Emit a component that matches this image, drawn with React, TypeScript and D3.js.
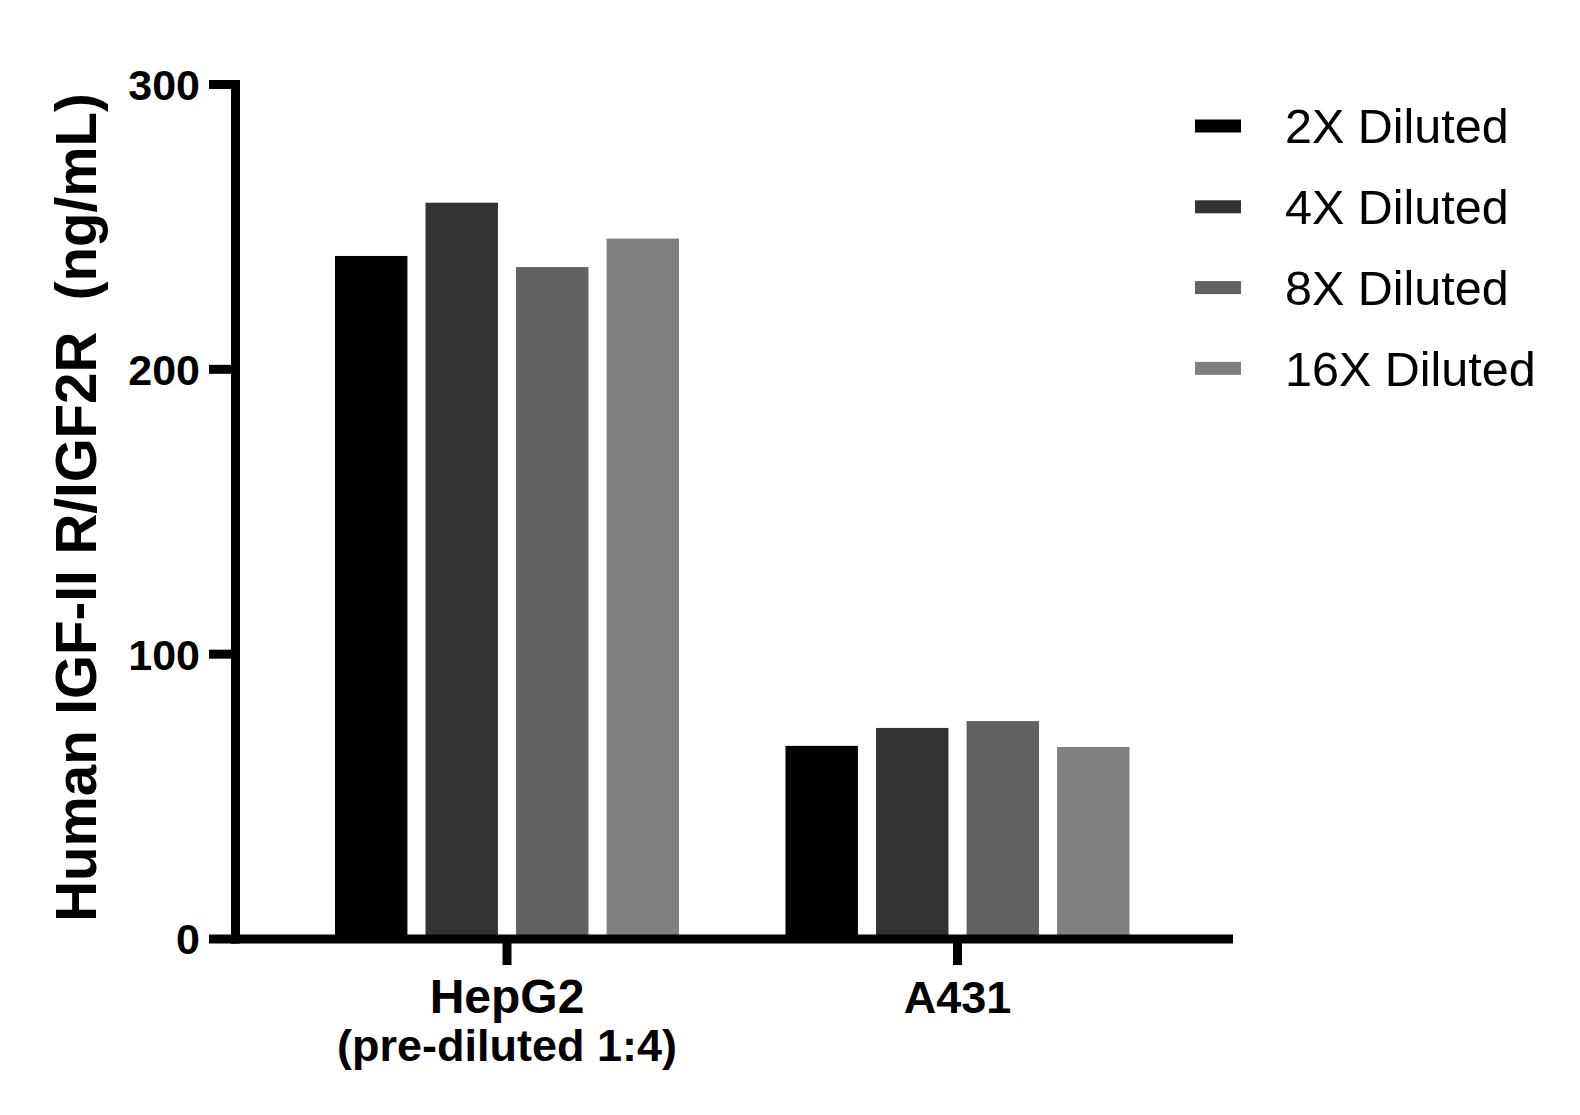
import React from "react";
import * as d3 from "d3";

const categories = ["HepG2", "A431"];
const categoryLines = [["HepG2", "(pre-diluted 1:4)"], ["A431"]];
const series = ["2X Diluted", "4X Diluted", "8X Diluted", "16X Diluted"];
const seriesColors = ["#000000", "#333333", "#626262", "#808080"];
const hepg2Values = [239.8, 258.5, 235.9, 245.9];
const a431Values = [67.8, 74.1, 76.5, 67.4];
const yTicks = [0, 100, 200, 300];
const yTitle = "Human IGF-II R/IGF2R  (ng/mL)";

const valuesByCategory = [hepg2Values, a431Values];

const FONT = "'Liberation Sans', Arial, Helvetica, sans-serif";

export default function App() {
  const W = 1580;
  const H = 1115;
  const axisX = 235.5;
  const y = d3.scaleLinear().domain([0, 300]).range([939, 84.5]);
  const xGroup = d3.scalePoint<string>().domain(categories).range([507, 957.5]).padding(0);
  const xInner = d3.scaleBand<string>().domain(series).range([-172, 172]).paddingInner(0.2).paddingOuter(0);
  const axisRight = 1233;
  const lw = 9;

  return (
    <svg
      width={W}
      height={H}
      viewBox={`0 0 ${W} ${H}`}
      style={{ position: "absolute", left: 0, top: 0, display: "block", background: "#fff" }}
      fontFamily={FONT}
    >
      <rect x={0} y={0} width={W} height={H} fill="#fff" />
      {categories.map((c, ci) => (
        <g key={c} transform={`translate(${xGroup(c)},0)`}>
          {series.map((s, si) => (
            <rect
              key={s}
              x={xInner(s)!}
              width={xInner.bandwidth()}
              y={y(valuesByCategory[ci][si])}
              height={y(0) - y(valuesByCategory[ci][si])}
              fill={seriesColors[si]}
            />
          ))}
        </g>
      ))}
      <line x1={axisX} x2={axisX} y1={y(300) - lw / 2} y2={y(0) + lw / 2} stroke="#000" strokeWidth={lw} />
      {yTicks.map((t) => (
        <g key={t}>
          <line x1={209} x2={axisX} y1={y(t)} y2={y(t)} stroke="#000" strokeWidth={lw} />
          <text x={200} y={y(t)} dy="0.36em" textAnchor="end" fontSize={43} fontWeight="bold" fill="#000">
            {t}
          </text>
        </g>
      ))}
      <line x1={axisX - lw / 2} x2={axisRight} y1={y(0)} y2={y(0)} stroke="#000" strokeWidth={lw} />
      {categories.map((c, ci) => (
        <g key={c}>
          <line x1={xGroup(c)!} x2={xGroup(c)!} y1={y(0)} y2={965} stroke="#000" strokeWidth={lw} />
          {categoryLines[ci].map((ln, li) => (
            <text
              key={li}
              x={xGroup(c)!}
              y={1013 + li * 48}
              textAnchor="middle"
              fontSize={ci === 0 && li === 0 ? 48 : 45}
              fontWeight="bold"
              fill="#000"
            >
              {ln}
            </text>
          ))}
        </g>
      ))}
      <text
        transform={`translate(96,507.5) rotate(-90)`}
        textAnchor="middle"
        fontSize={56.5}
        fontWeight="bold"
        fill="#000"
        style={{ whiteSpace: "pre" }}
      >
        {yTitle}
      </text>
      {series.map((s, i) => {
        const cy = 126 + i * 80.8;
        return (
          <g key={s}>
            <rect x={1195} y={cy - 6.5} width={46} height={13} fill={seriesColors[i]} />
            <text x={1285} y={cy} dy="0.355em" fontSize={48.5} fill="#000">
              {s}
            </text>
          </g>
        );
      })}
    </svg>
  );
}
